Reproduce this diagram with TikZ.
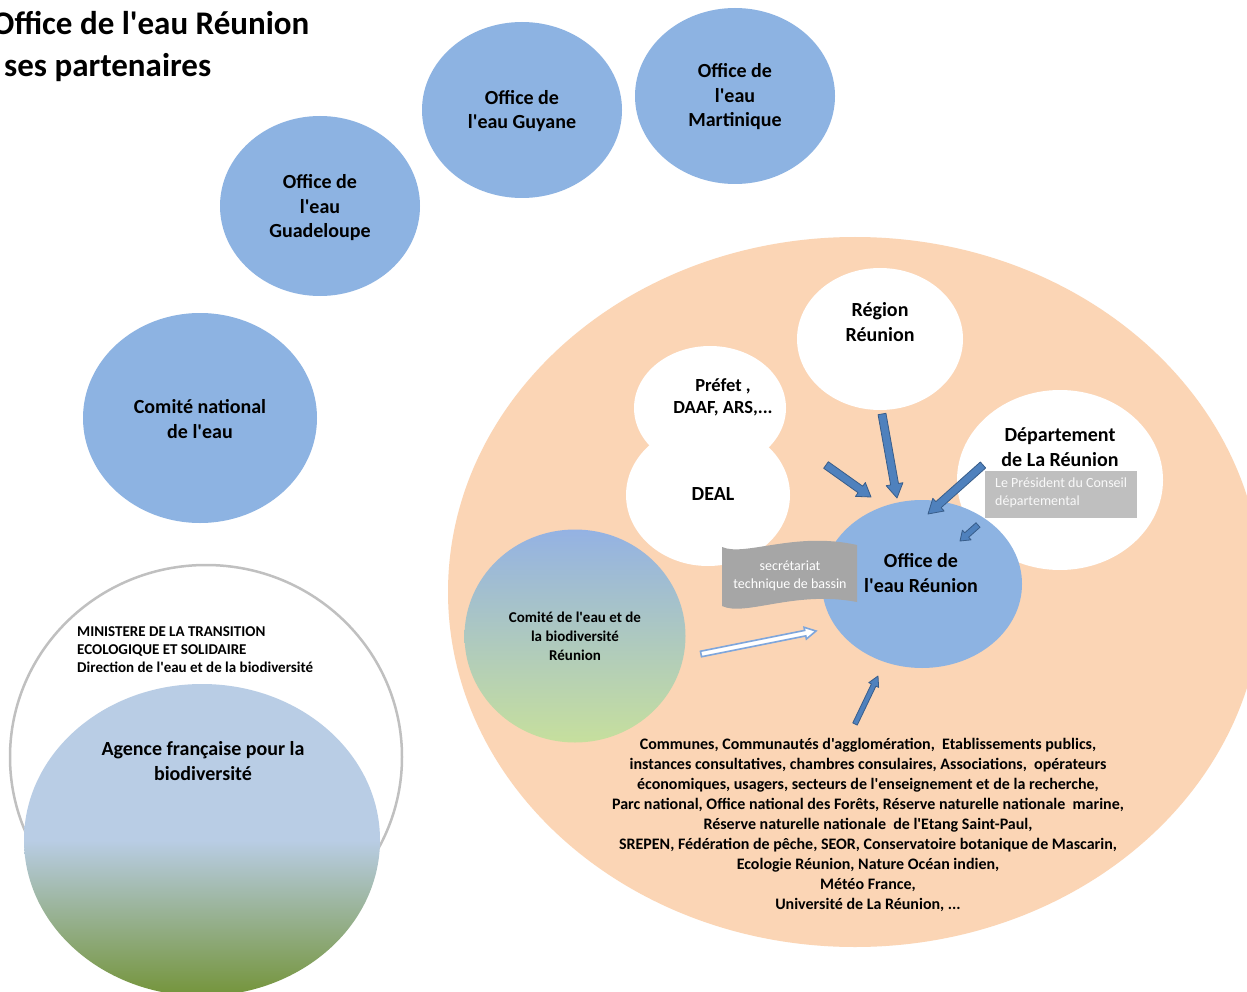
\documentclass[tikz,border=0pt]{standalone}
\usepackage{fontspec}
\setmainfont{Carlito}
\newfontfamily\carl{Carlito}
\usetikzlibrary{shapes.geometric,calc}
\definecolor{bub}{HTML}{8DB3E2}
\definecolor{peach}{HTML}{FBD5B5}
\definecolor{arrfill}{HTML}{4F81BD}
\definecolor{arrline}{HTML}{385D8A}
\definecolor{hollowline}{HTML}{7EA6DC}
\definecolor{bannergray}{HTML}{A6A6A6}
\definecolor{boxgray}{HTML}{BFBFBF}
\definecolor{ringgray}{HTML}{C0C0C0}
\definecolor{agblue}{HTML}{B9CDE5}
\definecolor{aggreen}{HTML}{74943A}
\definecolor{cebtop}{HTML}{94B2E3}
\definecolor{cebbot}{HTML}{C6DF9D}
\newcommand\blockarrow[6]{%
  \path (#2); \pgfgetlastxy{\bax}{\bay}%
  \path (#3); \pgfgetlastxy{\bbx}{\bby}%
  \pgfmathsetmacro\blen{veclen(\bbx-\bax,\bby-\bay)}%
  \pgfmathsetmacro\bang{atan2(\bby-\bay,\bbx-\bax)}%
  \filldraw[#1,shift={(#2)},rotate=\bang] (0pt,{-#4pt}) -- ({\blen pt-#6pt},{-#4pt}) -- ({\blen pt-#6pt},{-#5pt}) -- ({\blen pt},0pt) -- ({\blen pt-#6pt},{#5pt}) -- ({\blen pt-#6pt},{#4pt}) -- (0pt,{#4pt}) -- cycle;%
}
\begin{document}
\begin{tikzpicture}[x=1pt,y=-1pt,
  shapebub/.style={ellipse,inner sep=0pt,draw=none},
  bluebub/.style={shapebub,fill=bub},
  whitebub/.style={shapebub,fill=white},
  bigtxt/.style={inner sep=0pt,align=center,font=\carl\bfseries\fontsize{20}{24.5}\selectfont},
  midtxt/.style={inner sep=0pt,align=center,font=\carl\bfseries\fontsize{18.5}{22}\selectfont},
  smalltxt/.style={inner sep=0pt,align=center,font=\carl\bfseries\fontsize{15}{19}\selectfont},
  greytxt/.style={inner sep=0pt,text=white,font=\carl\fontsize{14}{17.5}\selectfont},
  solidarrow/.style={fill=arrfill,draw=arrline,line width=0.8pt,line join=round},
  hollowarrow/.style={fill=white,draw=hollowline,line width=1.6pt,line join=miter}]
\useasboundingbox (0,0) rectangle (1247,992);
\clip (0,0) rectangle (1247,992);
\fill[white] (0,0) rectangle (1247,992);

% title
\node[anchor=base west,inner sep=0pt,font=\carl\bfseries\fontsize{33}{40}\selectfont] (title1) at (-8,35) {Office de l'eau Réunion};
\node[anchor=base west,inner sep=0pt,font=\carl\bfseries\fontsize{33}{40}\selectfont] (title2) at (4,77) {ses partenaires};

% overseas offices
\node[bluebub,minimum width=200,minimum height=176] (guyane) at (522,110) {};
\node[bigtxt] (guyanet) at (522,111) {Office de\\l'eau Guyane};
\node[bluebub,minimum width=200,minimum height=176] (martinique) at (735,96) {};
\node[bigtxt] (martiniquet) at (735,97) {Office de\\l'eau\\Martinique};
\node[bluebub,minimum width=200,minimum height=180] (guadeloupe) at (320,206) {};
\node[bigtxt] (guadeloupet) at (320,208) {Office de\\l'eau\\Guadeloupe};
\node[bluebub,minimum width=234,minimum height=210] (cne) at (200,418) {};
\node[bigtxt] (cnet) at (200,419) {Comité national\\de l'eau};

% ministry and agency
\node[shapebub,draw=ringgray,line width=2.5pt,fill=white,minimum width=392,minimum height=384] (min) at (206,757) {};
\node[shapebub,top color=agblue,bottom color=aggreen,middle color=agblue,minimum width=356,minimum height=312] (afb) at (202,840) {};
\node[anchor=west,inner sep=0pt,align=left,font=\carl\bfseries\fontsize{15}{18}\selectfont] (mint) at (77,650) {MINISTERE DE LA TRANSITION\\ECOLOGIQUE ET SOLIDAIRE\\Direction de l'eau et de la biodiversité};
\node[bigtxt] (afbt) at (203,761) {Agence française pour la\\biodiversité};

% big Reunion area
\node[shapebub,fill=peach,minimum width=814,minimum height=710] (reunion) at (855,592) {};
\node[whitebub,minimum width=166,minimum height=142] (region) at (880,339) {};
\node[bigtxt] (regiont) at (880,322) {Région\\Réunion};
\node[whitebub,minimum width=152,minimum height=124] (prefet) at (710,408) {};
\node[whitebub,minimum width=164,minimum height=142] (deal) at (708,495) {};
\node[midtxt] (prefett) at (723,397) {Préfet ,\\DAAF, ARS,...};
\node[bigtxt] (dealt) at (713,494) {DEAL};
\node[whitebub,minimum width=206,minimum height=180] (dept) at (1060,480) {};
\node[bigtxt] (deptt) at (1060,447) {Département\\de La Réunion};
\node[bluebub,minimum width=200,minimum height=168] (oer) at (922,584) {};
\node[bigtxt] (oert) at (921,573) {Office de\\l'eau Réunion};
\node[fill=boxgray,minimum width=152,minimum height=47,inner sep=0pt] (pres) at (1061,494.5) {};
\node[greytxt,anchor=west,align=left,text=white!95!gray] (prest) at (995,493) {Le Président du Conseil\\départemental};
\node[shapebub,top color=cebtop,bottom color=cebbot,minimum width=221,minimum height=213] (ceb) at (575,636) {};
\node[smalltxt] (cebt) at (575,636) {Comité de l'eau et de\\la biodiversité\\Réunion};

% secretariat banner
\coordinate (b1) at (722,547);
\coordinate (b2) at (857,545);
\coordinate (b3) at (857,602);
\coordinate (b4) at (722,606);
\fill[bannergray] (b1) .. controls (745,557) and (795,531) .. (b2) -- (b3) .. controls (795,590) and (745,617) .. (b4) -- cycle;
\node[greytxt,align=center] (stb) at (790,576) {secrétariat\\technique de bassin};

% arrows
\coordinate (a1s) at (826,465);
\coordinate (a1e) at (871,497);
\coordinate (a2s) at (882,414);
\coordinate (a2e) at (897,498);
\coordinate (a3s) at (983,465);
\coordinate (a3e) at (928,514);
\coordinate (a4s) at (978,525);
\coordinate (a4e) at (960,541);
\coordinate (a5s) at (855,724);
\coordinate (a5e) at (878,676);
\coordinate (a6s) at (701,654);
\coordinate (a6e) at (816,631);
\blockarrow{solidarrow}{a1s}{a1e}{4}{8.5}{13}
\blockarrow{solidarrow}{a2s}{a2e}{4}{8.5}{14}
\blockarrow{solidarrow}{a3s}{a3e}{4}{8.5}{14}
\blockarrow{solidarrow}{a4s}{a4e}{3}{6.5}{9}
\blockarrow{solidarrow}{a5s}{a5e}{2.5}{5.5}{10}
\blockarrow{hollowarrow}{a6s}{a6e}{2.8}{6}{11}

% partners text
\node[inner sep=0pt,align=center,font=\carl\bfseries\fontsize{16}{19.9}\selectfont] (partners) at (868,825) {Communes, Communautés d'agglomération,\ \ Etablissements publics,\\instances consultatives, chambres consulaires, Associations,\ \ opérateurs\\économiques, usagers, secteurs de l'enseignement et de la recherche,\\Parc national,\ Office national des Forêts, Réserve naturelle nationale\ \ marine,\\Réserve naturelle nationale\ \ de l'Etang\ Saint-Paul,\\SREPEN,\ Fédération de pêche, SEOR, Conservatoire botanique\ de Mascarin,\\Ecologie\ Réunion, Nature Océan indien,\\Météo France,\\Université de La Réunion, ...};
\end{tikzpicture}
\end{document}
